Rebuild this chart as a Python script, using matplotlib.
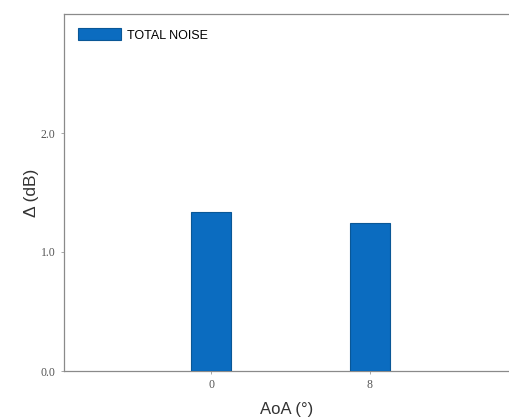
import matplotlib
matplotlib.use("Agg")
import matplotlib.pyplot as plt

# Data
aoa_labels = ["0", "8"]
total_noise_delta = [1.34, 1.24]
y_ticks = [0.0, 1.0, 2.0]
y_tick_labels = ["0.0", "1.0", "2.0"]

plt.rcParams["font.family"] = ["Liberation Sans", "DejaVu Sans"]

fig = plt.figure(figsize=(5.09, 4.20), dpi=100)
ax = fig.add_axes([64 / 509, 49 / 420, 445 / 509, 357 / 420])

positions = list(range(len(aoa_labels)))
ax.bar(positions, total_noise_delta, width=0.255, color="#0b6cc0",
       edgecolor="#0a5796", linewidth=0.8, label="TOTAL NOISE", zorder=3)

ax.set_xlim(-0.925, 1.875)
ax.set_ylim(0, 3.0)
ax.set_xticks(positions)
ax.set_xticklabels(aoa_labels, family=["Liberation Serif"], fontsize=8.5, color="#555555")
ax.set_yticks(y_ticks)
ax.set_yticklabels(y_tick_labels, family=["Liberation Serif"], fontsize=8.5, color="#555555")
ax.tick_params(axis="both", length=2, width=0.6, color="#999999", pad=4)

for side in ("left", "top", "bottom"):
    ax.spines[side].set_color("#8a8a8a")
    ax.spines[side].set_linewidth(0.9)
ax.spines["right"].set_visible(False)

ax.set_xlabel("AoA (°)", fontsize=12, color="#333333", labelpad=8)
ax.set_ylabel("Δ (dB)", fontsize=12.5, color="#333333", labelpad=1)

ax.legend(loc="upper left", frameon=False, fontsize=9, handlelength=3.4,
          handleheight=1.1, borderaxespad=0.75, handletextpad=0.5)

fig.savefig("out.png", dpi=100)
